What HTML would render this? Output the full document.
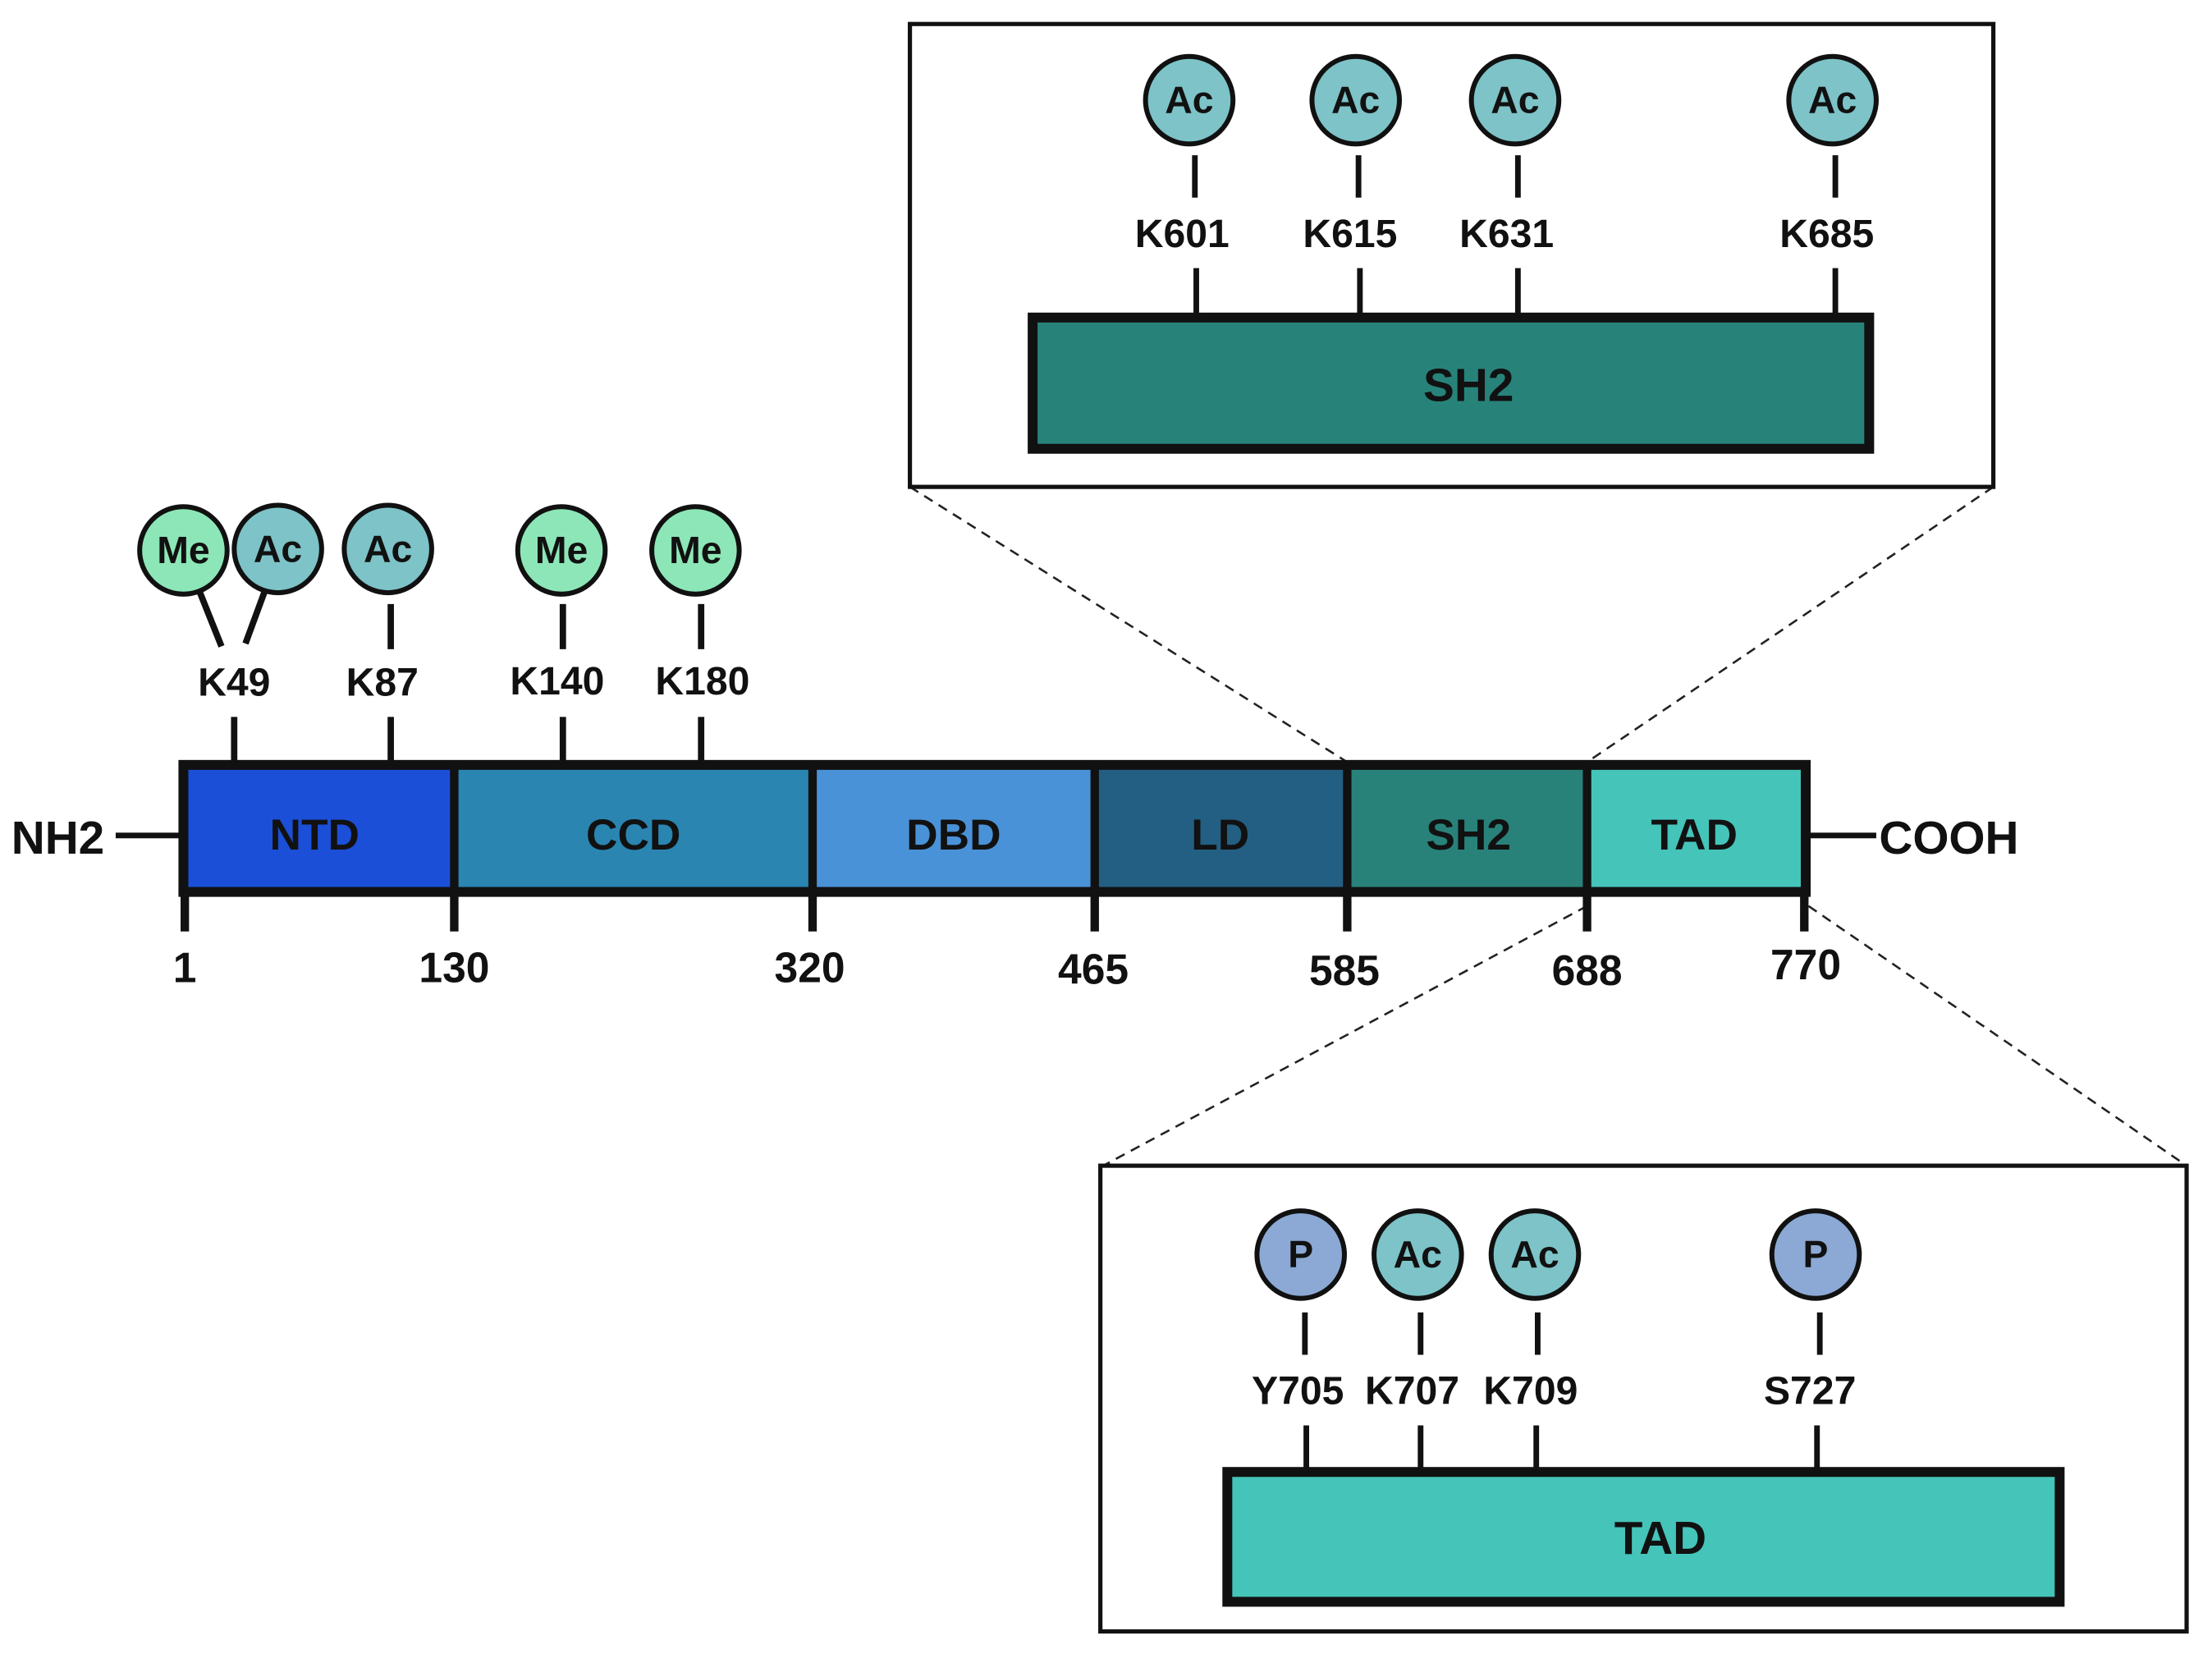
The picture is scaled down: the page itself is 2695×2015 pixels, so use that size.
<!DOCTYPE html>
<html><head><meta charset="utf-8"><style>
html,body{margin:0;padding:0;background:#fff;}
svg{display:block;}
text{font-family:"Liberation Sans",sans-serif;font-weight:bold;fill:#111;}
</style></head><body>
<svg width="2695" height="2015" viewBox="0 0 1568 1172" preserveAspectRatio="none" xmlns="http://www.w3.org/2000/svg">
<rect width="1568" height="1172" fill="#fff"/>
<g stroke="#222" stroke-width="1.5" stroke-dasharray="7,5" fill="none">
<line x1="645" y1="345" x2="955" y2="540"/>
<line x1="1413" y1="345" x2="1125" y2="540"/>
<line x1="1125" y1="642" x2="782" y2="826"/>
<line x1="1282" y1="642" x2="1550" y2="826"/>
</g>
<rect x="645" y="17" width="768" height="328" fill="#fff" stroke="#111" stroke-width="3"/>
<rect x="732" y="225" width="593" height="93" fill="#27837a" stroke="#111" stroke-width="7"/>
<text x="1041" y="284" font-size="33" text-anchor="middle">SH2</text>
<g stroke="#111" stroke-width="4">
<line x1="847" y1="110" x2="847" y2="140"/><line x1="963" y1="110" x2="963" y2="140"/><line x1="1076" y1="110" x2="1076" y2="140"/><line x1="1301" y1="110" x2="1301" y2="140"/>
<line x1="848" y1="190" x2="848" y2="225"/><line x1="964" y1="190" x2="964" y2="225"/><line x1="1076" y1="190" x2="1076" y2="225"/><line x1="1301" y1="190" x2="1301" y2="225"/>
</g>
<g fill="#7dc3c8" stroke="#111" stroke-width="3.5">
<circle cx="843" cy="71" r="31"/><circle cx="961" cy="71" r="31"/><circle cx="1074" cy="71" r="31"/><circle cx="1299" cy="71" r="31"/>
</g>
<g font-size="27" text-anchor="middle">
<text x="843" y="80">Ac</text><text x="961" y="80">Ac</text><text x="1074" y="80">Ac</text><text x="1299" y="80">Ac</text>
<text x="838" y="175" font-size="28">K601</text><text x="957" y="175" font-size="28">K615</text><text x="1068" y="175" font-size="28">K631</text><text x="1295" y="175" font-size="28">K685</text>
</g>
<line x1="82" y1="592" x2="130" y2="592" stroke="#111" stroke-width="4"/>
<line x1="1280" y1="592" x2="1330" y2="592" stroke="#111" stroke-width="4"/>
<text x="8" y="605" font-size="33">NH2</text>
<text x="1332" y="605" font-size="33">COOH</text>
<rect x="130" y="542" width="192" height="90" fill="#1c4fd8"/>
<rect x="322" y="542" width="254" height="90" fill="#2a85b1"/>
<rect x="576" y="542" width="200" height="90" fill="#4a92d8"/>
<rect x="776" y="542" width="179" height="90" fill="#235f82"/>
<rect x="955" y="542" width="170" height="90" fill="#28827a"/>
<rect x="1125" y="542" width="155" height="90" fill="#45c4ba"/>
<rect x="130" y="542" width="1150" height="90" fill="none" stroke="#111" stroke-width="7"/>
<g stroke="#111" stroke-width="6">
<line x1="322" y1="542" x2="322" y2="660"/><line x1="576" y1="542" x2="576" y2="660"/><line x1="776" y1="542" x2="776" y2="660"/><line x1="955" y1="542" x2="955" y2="660"/><line x1="1125" y1="542" x2="1125" y2="660"/>
<line x1="131" y1="632" x2="131" y2="660"/><line x1="1279" y1="632" x2="1279" y2="660"/>
</g>
<g font-size="31" text-anchor="middle">
<text x="223" y="602">NTD</text><text x="449" y="602">CCD</text><text x="676" y="602">DBD</text><text x="865" y="602">LD</text><text x="1041" y="602">SH2</text><text x="1201" y="602">TAD</text>
</g>
<g font-size="30" text-anchor="middle">
<text x="131" y="696">1</text><text x="322" y="696">130</text><text x="574" y="696">320</text><text x="775" y="697">465</text><text x="953" y="698">585</text><text x="1125" y="698">688</text><text x="1280" y="694">770</text>
</g>
<g stroke="#111" stroke-width="4.5">
<line x1="166" y1="508" x2="166" y2="542"/><line x1="277" y1="508" x2="277" y2="542"/><line x1="399" y1="508" x2="399" y2="542"/><line x1="497" y1="508" x2="497" y2="542"/>
<line x1="277" y1="428" x2="277" y2="460"/><line x1="399" y1="428" x2="399" y2="460"/><line x1="497" y1="428" x2="497" y2="460"/>
<line x1="141" y1="418" x2="157" y2="458"/><line x1="188" y1="418" x2="174" y2="456"/>
</g>
<g stroke="#111" stroke-width="3.5">
<circle cx="130" cy="390" r="31" fill="#8de6b7"/>
<circle cx="197" cy="389" r="31" fill="#7dc3c8"/>
<circle cx="275" cy="389" r="31" fill="#7dc3c8"/>
<circle cx="398" cy="390" r="31" fill="#8de6b7"/>
<circle cx="493" cy="390" r="31" fill="#8de6b7"/>
</g>
<g font-size="27" text-anchor="middle">
<text x="130" y="399">Me</text><text x="197" y="398">Ac</text><text x="275" y="398">Ac</text><text x="398" y="399">Me</text><text x="493" y="399">Me</text>
</g>
<g font-size="28" text-anchor="middle">
<text x="166" y="493">K49</text><text x="271" y="493">K87</text><text x="395" y="492">K140</text><text x="498" y="492">K180</text>
</g>
<rect x="780" y="826" width="770" height="330" fill="#fff" stroke="#111" stroke-width="3"/>
<rect x="870" y="1043" width="590" height="92" fill="#45c4ba" stroke="#111" stroke-width="7"/>
<text x="1177" y="1101" font-size="33" text-anchor="middle">TAD</text>
<g stroke="#111" stroke-width="4">
<line x1="925" y1="930" x2="925" y2="960"/><line x1="1007" y1="930" x2="1007" y2="960"/><line x1="1090" y1="930" x2="1090" y2="960"/><line x1="1290" y1="930" x2="1290" y2="960"/>
<line x1="926" y1="1010" x2="926" y2="1043"/><line x1="1007" y1="1010" x2="1007" y2="1043"/><line x1="1089" y1="1010" x2="1089" y2="1043"/><line x1="1288" y1="1010" x2="1288" y2="1043"/>
</g>
<g stroke="#111" stroke-width="3.5">
<circle cx="922" cy="889" r="31" fill="#8ba9d4"/>
<circle cx="1005" cy="889" r="31" fill="#7dc3c8"/>
<circle cx="1088" cy="889" r="31" fill="#7dc3c8"/>
<circle cx="1287" cy="889" r="31" fill="#8ba9d4"/>
</g>
<g font-size="27" text-anchor="middle">
<text x="922" y="898">P</text><text x="1005" y="898">Ac</text><text x="1088" y="898">Ac</text><text x="1287" y="898">P</text>
</g>
<g font-size="28" text-anchor="middle">
<text x="920" y="995">Y705</text><text x="1001" y="995">K707</text><text x="1085" y="995">K709</text><text x="1283" y="995">S727</text>
</g>
</svg>
</body></html>
